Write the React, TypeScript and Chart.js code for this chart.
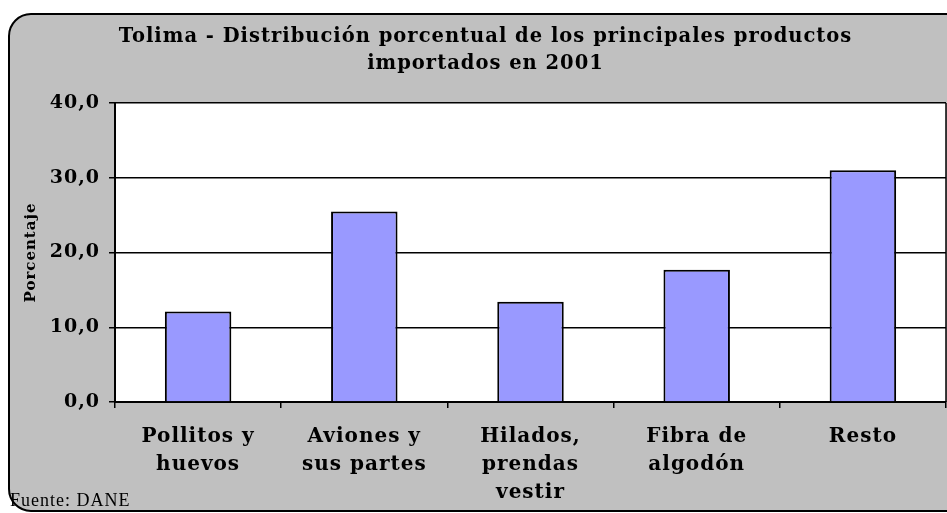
import React, { useEffect, useRef } from 'react';
import { Chart, registerables } from 'chart.js';

Chart.register(...registerables);

const categories: string[][] = [
  ['Pollitos y', 'huevos'],
  ['Aviones y', 'sus partes'],
  ['Hilados,', 'prendas', 'vestir'],
  ['Fibra de', 'algodón'],
  ['Resto'],
];
const values: number[] = [12.1, 25.5, 13.4, 17.7, 31.0];
const yMin = 0;
const yMax = 40;
const yStep = 10;
const titleLines: string[] = [
  'Tolima - Distribución porcentual de los principales productos',
  'importados en 2001',
];
const yTitle = 'Porcentaje';
const sourceNote = 'Fuente: DANE';

const SERIF = '"DejaVu Serif", serif';
const SPACING = '1px';

const framePlugin = {
  id: 'frame',
  beforeLayout(chart: any) {
    (chart.ctx as any).letterSpacing = SPACING;
  },
  beforeDraw(chart: any) {
    const ctx = chart.ctx;
    const a = chart.chartArea;
    (ctx as any).letterSpacing = SPACING;
    ctx.save();
    ctx.fillStyle = '#C0C0C0';
    ctx.strokeStyle = '#000';
    ctx.lineWidth = 2;
    ctx.beginPath();
    ctx.roundRect(9, 14, 960, 497, 22);
    ctx.fill();
    ctx.stroke();
    ctx.fillStyle = '#FFFFFF';
    ctx.fillRect(a.left, a.top, a.right - a.left, a.bottom - a.top);
    ctx.restore();
  },
  afterDraw(chart: any) {
    const ctx = chart.ctx;
    const a = chart.chartArea;
    ctx.save();
    ctx.strokeStyle = '#000';
    ctx.lineWidth = 1.5;
    ctx.beginPath();
    ctx.moveTo(a.right, a.top);
    ctx.lineTo(a.right, a.bottom);
    ctx.stroke();
    ctx.fillStyle = '#000';
    ctx.font = '18px "Liberation Serif", serif';
    (ctx as any).letterSpacing = '1px';
    ctx.textBaseline = 'alphabetic';
    ctx.textAlign = 'left';
    ctx.fillText(sourceNote, 10, 506);
    ctx.restore();
  },
};

export default function App() {
  const ref = useRef<HTMLCanvasElement | null>(null);

  useEffect(() => {
    if (!ref.current) return;
    const chart = new Chart(ref.current, {
      type: 'bar',
      data: {
        labels: categories,
        datasets: [
          {
            data: values,
            backgroundColor: '#9999FF',
            borderColor: '#000000',
            borderWidth: 2,
            barPercentage: 0.4,
            categoryPercentage: 1,
          },
        ],
      },
      options: {
        responsive: false,
        animation: false,
        layout: { padding: { left: 25, right: 1, top: 0, bottom: 0 } },
        plugins: {
          legend: { display: false },
          tooltip: { enabled: false },
          title: {
            display: true,
            text: titleLines,
            color: '#000',
            font: { family: SERIF, size: 19.5, weight: 'bold', lineHeight: '27px' },
            padding: { top: 23, bottom: 26 },
          },
        },
        scales: {
          x: {
            offset: true,
            grid: {
              display: true,
              offset: true,
              drawOnChartArea: false,
              drawTicks: true,
              tickLength: 6,
              color: '#000',
              lineWidth: 1.5,
            },
            border: { display: true, color: '#000', width: 2 },
            ticks: {
              color: '#000',
              padding: 15,
              maxRotation: 0,
              autoSkip: false,
              font: { family: SERIF, size: 20, weight: 'bold', lineHeight: '28px' },
            },
            afterFit(scale: any) {
              scale.height = 111;
            },
          },
          y: {
            min: yMin,
            max: yMax,
            ticks: {
              stepSize: yStep,
              color: '#000',
              padding: 9,
              font: { family: SERIF, size: 19, weight: 'bold' },
              callback: (v: any) => Number(v).toFixed(1).replace('.', ','),
            },
            grid: {
              color: '#000',
              lineWidth: 1.5,
              tickLength: 6,
              drawTicks: true,
            },
            border: { display: true, color: '#000', width: 2 },
            title: {
              display: true,
              text: yTitle,
              color: '#000',
              font: { family: SERIF, size: 15, weight: 'bold', lineHeight: 1.2 },
              padding: { top: -3, bottom: 0 },
            },
            afterFit(scale: any) {
              scale.width = 90;
            },
          },
        },
      },
      plugins: [framePlugin],
    });
    return () => chart.destroy();
  }, []);

  return (
    <div style={{ position: 'absolute', left: 0, top: 0, width: 947, height: 513 }}>
      <canvas ref={ref} width={947} height={513} style={{ display: 'block' }} />
    </div>
  );
}
